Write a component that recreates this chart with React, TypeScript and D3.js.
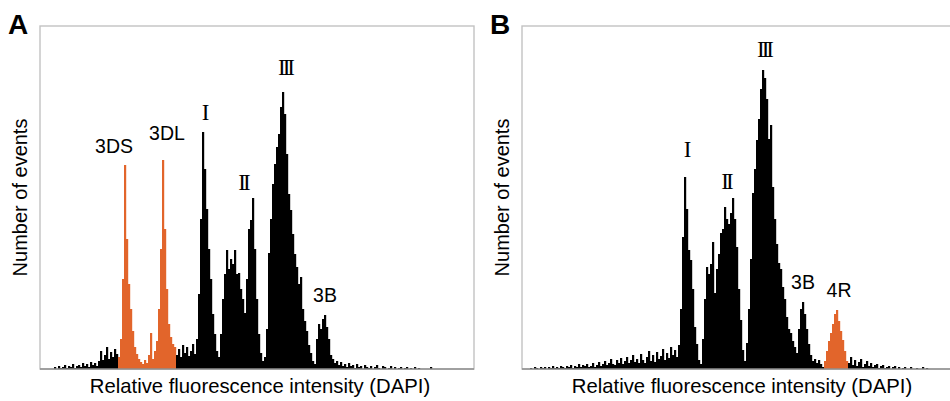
import { useEffect, useRef } from "react";
import * as d3 from "d3";

// DAPI histograms, 217 channels per panel, counts in events (arbitrary units)
const channelCount = 217;
const maxEvents = 343;

const panelAStart = 7;
const panelACounts = [
  // background before 3DS
  2, 0, 3, 1, 2, 4, 1, 3, 2, 5, 1, 3, 4, 2, 6, 3, 5, 2, 7, 4, 6, 3, 8, 18, 9, 14, 22, 10, 17, 12, 20, 15,
  // 3DS
  12, 30, 90, 204, 130, 85, 60, 38, 22, 15, 10,
  7, 5, 9, 6, 14, 36, 10, 18,
  // 3DL
  28, 60, 120, 209, 140, 80, 45, 32, 25, 22,
  // I
  14, 20, 12, 24, 16, 22, 13, 18, 25, 15, 30, 75, 150, 237, 200, 160, 120, 90, 55, 35, 18, 12,
  // II
  35, 70, 95, 119, 100, 110, 105, 119, 95, 96, 80, 70, 56, 90, 140, 149, 171, 120, 70, 35, 16, 8,
  // III
  12, 40, 116, 150, 185, 205, 222, 235, 262, 277, 255, 215, 175, 159, 135, 115, 102, 85, 92, 60, 48, 38, 24, 16, 8, 5,
  // 3B and tail
  30, 45, 40, 50, 54, 42, 30, 14, 10, 6, 8, 4, 7, 3, 5, 2, 6, 3, 4, 1, 5, 2, 3, 0, 4, 2, 1, 3, 0, 2,
  4, 1, 0, 3, 2, 0, 1, 3, 0, 2, 0, 1, 2, 0, 1, 2, 0, 1, 0, 2, 0, 1, 0, 0, 0, 0, 0, 2,
];
const panelAGated = [39, 67]; // sorted 3DS + 3DL chromosomes

const panelBStart = 4;
const panelBCounts = [
  // background
  1, 0, 2, 1, 0, 2, 1, 2, 0, 2, 1, 3, 1, 2, 1, 3, 2, 1, 3, 2, 4, 1, 3, 2, 5, 2, 4, 3, 5, 2,
  3, 6, 2, 4, 7, 3, 5, 8, 4, 6, 10, 5, 4, 9, 6, 11, 5, 8, 12, 6, 9, 14, 7, 10, 6, 15,
  9, 6, 12, 18, 8, 14, 7, 17, 10, 13, 20, 9, 16, 11, 22, 14, 19, 12, 24,
  // I
  60, 132, 192, 160, 119, 109, 80, 42, 25, 9, 5,
  // II
  30, 70, 102, 95, 105, 127, 76, 100, 115, 136, 140, 162, 150, 145, 156, 171, 150, 122, 80, 49, 19, 8,
  // III and 3B
  26, 60, 110, 176, 200, 229, 250, 280, 299, 291, 270, 230, 244, 182, 150, 125, 106, 100, 82, 70,
  52, 40, 36, 28, 22, 16, 40, 60, 67, 55, 40, 25, 14, 8, 10, 6, 9, 5, 2,
  // 4R
  8, 18, 28, 36, 45, 55, 59, 48, 38, 29, 18, 8,
  // tail
  6, 12, 4, 9, 3, 7, 10, 2, 5, 8, 3, 6, 2, 4, 5, 1, 3, 4, 1, 2, 3, 0, 2, 3, 0, 2, 0, 1, 2, 0,
  0, 2, 0, 0, 1, 0, 0, 2, 0, 1,
];
const panelBGated = [151, 162]; // sorted 4R chromosome

// peak labels: text, channel, events level of the baseline
const panelALabels = [
  { text: "3DS", ch: 37, y: 216, roman: false },
  { text: "3DL", ch: 63.5, y: 229, roman: false },
  { text: "I", ch: 82, y: 249, roman: true },
  { text: "II", ch: 101.5, y: 179, roman: true },
  { text: "III", ch: 122.5, y: 294, roman: true },
  { text: "3B", ch: 142.5, y: 67, roman: false },
];
const panelBLabels = [
  { text: "I", ch: 82, y: 212, roman: true },
  { text: "II", ch: 102, y: 180, roman: true },
  { text: "III", ch: 121, y: 312, roman: true },
  { text: "3B", ch: 140.5, y: 80, roman: false },
  { text: "4R", ch: 158.5, y: 72, roman: false },
];

const panels = [
  { letter: "A", left: 40, start: panelAStart, counts: panelACounts, gated: panelAGated, labels: panelALabels },
  { letter: "B", left: 522, start: panelBStart, counts: panelBCounts, gated: panelBGated, labels: panelBLabels },
];

const App = () => {
  const svgRef = useRef(null);
  const width = 950;
  const height = 401;

  useEffect(() => {
    const svg = d3.select(svgRef.current);
    svg.selectAll("*").remove();

    const top = 26;
    const bottom = 369;
    const plotW = 434;
    const orange = "#e2652b";
    const sans = "'Liberation Sans', Arial, sans-serif";
    const serif = "'Liberation Serif', 'Times New Roman', serif";

    const y = d3.scaleLinear().domain([0, maxEvents]).range([bottom, top]);

    panels.forEach((p) => {
      const x = d3.scaleLinear().domain([0, channelCount]).range([p.left, p.left + plotW]);
      const g = svg.append("g");

      // frame
      g.append("rect")
        .attr("x", p.left)
        .attr("y", top)
        .attr("width", plotW)
        .attr("height", bottom - top)
        .attr("fill", "none")
        .attr("stroke", "#c2c2c2")
        .attr("stroke-width", 1.4);

      const bins = p.counts.map((v, i) => ({ ch: p.start + i, v }));

      g.selectAll("rect.bin")
        .data(bins.filter((d) => d.v > 0))
        .enter()
        .append("rect")
        .attr("class", "bin")
        .attr("x", (d) => x(d.ch))
        .attr("y", (d) => y(d.v))
        .attr("width", (d) => x(d.ch + 1) - x(d.ch) + 0.2)
        .attr("height", (d) => y(0) - y(d.v))
        .attr("fill", (d) => (d.ch >= p.gated[0] && d.ch <= p.gated[1] ? orange : "#000"));

      // baseline
      g.append("line")
        .attr("x1", p.left)
        .attr("x2", p.left + plotW)
        .attr("y1", bottom)
        .attr("y2", bottom)
        .attr("stroke", "#8f8f8f")
        .attr("stroke-width", 1.3);

      // peak labels
      g.selectAll("text.peak")
        .data(p.labels)
        .enter()
        .append("text")
        .attr("class", "peak")
        .attr("x", (d) => x(d.ch))
        .attr("y", (d) => y(d.y))
        .attr("text-anchor", "middle")
        .attr("font-family", (d) => (d.roman ? serif : sans))
        .attr("font-size", (d) => (d.roman ? 23 : 19.5))
        .attr("letter-spacing", (d) => (d.roman ? -3 : 0))
        .text((d) => d.text);

      // panel letter
      g.append("text")
        .attr("x", p.left - 32)
        .attr("y", 34)
        .attr("font-family", sans)
        .attr("font-weight", "bold")
        .attr("font-size", 28)
        .text(p.letter);

      // axis titles
      g.append("text")
        .attr("transform", `translate(${p.left - 13},${(top + bottom) / 2}) rotate(-90)`)
        .attr("text-anchor", "middle")
        .attr("font-family", sans)
        .attr("font-size", 20)
        .text("Number of events");

      g.append("text")
        .attr("x", p.left + plotW / 2 + 3)
        .attr("y", 393)
        .attr("text-anchor", "middle")
        .attr("font-family", sans)
        .attr("font-size", 20.3)
        .text("Relative fluorescence intensity (DAPI)");
    });
  }, []);

  return (
    <svg
      ref={svgRef}
      width={width}
      height={height}
      style={{ position: "absolute", left: 0, top: 0, background: "#fff" }}
    ></svg>
  );
};

export default App;
